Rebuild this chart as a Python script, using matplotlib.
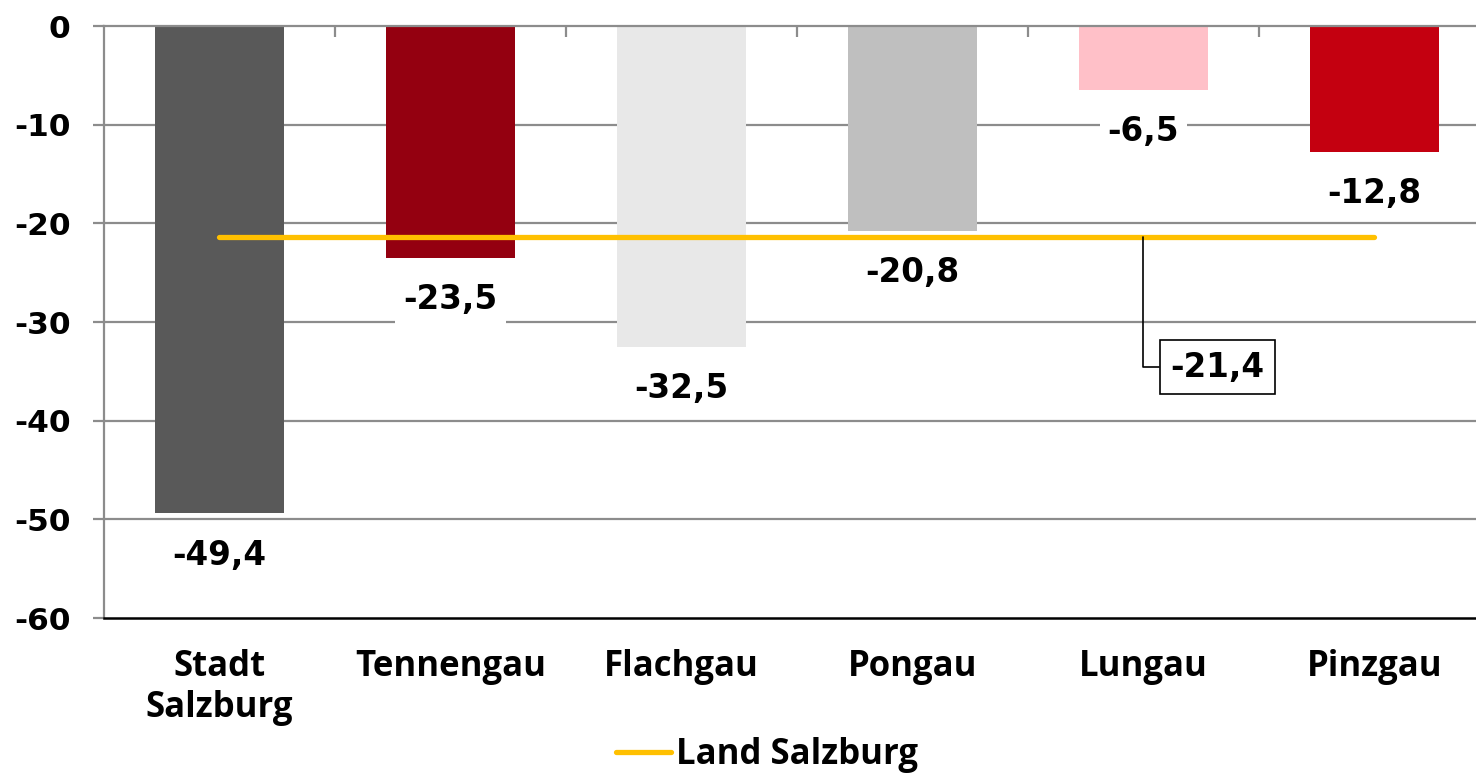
import matplotlib
matplotlib.use("Agg")
import matplotlib.pyplot as plt
import numpy as np

# data
categories = ["Stadt\nSalzburg", "Tennengau", "Flachgau", "Pongau", "Lungau", "Pinzgau"]
values = [-49.4, -23.5, -32.5, -20.8, -6.5, -12.8]
bar_colors = ["#595959", "#940010", "#e8e8e8", "#bfbfbf", "#ffc0c8", "#c40010"]
land_value = -21.4
land_label = "Land Salzburg"
y_ticks = [0, -10, -20, -30, -40, -50, -60]


def fmt(v):
    return f"{v:.1f}".replace(".", ",")


def main():
    fig = plt.figure(figsize=(14.76, 7.76), dpi=100)
    ax = fig.add_axes([104 / 1476, 1 - 618 / 776, (1490 - 104) / 1476, (618 - 26) / 776])

    x = np.arange(len(categories))
    ax.set_xlim(-0.5, len(categories) - 0.5)
    ax.set_ylim(-60, 0)

    # grid behind bars
    for t in y_ticks[1:-1]:
        ax.axhline(t, color="#8c8c8c", lw=1.6, zorder=0)

    ax.bar(x, values, width=0.56, color=bar_colors, zorder=2)

    # Land Salzburg reference line
    ax.plot([x[0], x[-1]], [land_value, land_value], color="#ffc000", lw=3.8,
            solid_capstyle="round", zorder=3, label=land_label)

    for xi, v in zip(x, values):
        ax.annotate(fmt(v), xy=(xi, v), xytext=(0, -30), textcoords="offset points",
                    ha="center", va="center", fontsize=23.5, fontweight="bold",
                    family="DejaVu Sans", zorder=4,
                    bbox=dict(boxstyle="square,pad=0.25", fc="white", ec="none"))

    ax.annotate(fmt(land_value), xy=(4, land_value), xytext=(4.32, -34.6),
                ha="center", va="center", fontsize=23.5, fontweight="bold",
                family="DejaVu Sans", zorder=5,
                bbox=dict(boxstyle="square,pad=0.32", fc="white", ec="black", lw=1.2),
                arrowprops=dict(arrowstyle="-", color="black", lw=1.2,
                                connectionstyle="angle,angleA=0,angleB=90,rad=0",
                                relpos=(0, 0.5), shrinkA=0, shrinkB=0))

    # spines
    ax.spines["right"].set_visible(False)
    ax.spines["top"].set_color("#8c8c8c")
    ax.spines["top"].set_linewidth(1.6)
    ax.spines["left"].set_color("#8c8c8c")
    ax.spines["left"].set_linewidth(1.6)
    ax.spines["bottom"].set_color("black")
    ax.spines["bottom"].set_linewidth(1.8)

    ax.set_yticks(y_ticks)
    ax.set_yticklabels([str(t) for t in y_ticks], fontsize=22.5, fontweight="bold",
                       family="DejaVu Sans")
    ax.tick_params(axis="y", direction="out", length=8, width=1.6, color="#8c8c8c", pad=16)

    ax.set_xticks(x)
    ax.set_xticklabels(categories, fontsize=25, fontweight="bold", family="Open Sans",
                       linespacing=1.2)
    ax.tick_params(axis="x", which="major", length=0, pad=22)
    ax.set_xticks(np.arange(len(categories) - 1) + 0.5, minor=True)
    ax.tick_params(axis="x", which="minor", bottom=False, top=True, direction="in",
                   length=8, width=1.6, color="#8c8c8c")

    fig.legend(loc="center", bbox_to_anchor=(767 / 1476, 1 - 755 / 776),
               frameon=False, handlelength=1.6, handletextpad=0.15,
               prop={"family": "Open Sans", "weight": "bold", "size": 25})

    fig.savefig("out.png", dpi=100)


if __name__ == "__main__":
    main()
